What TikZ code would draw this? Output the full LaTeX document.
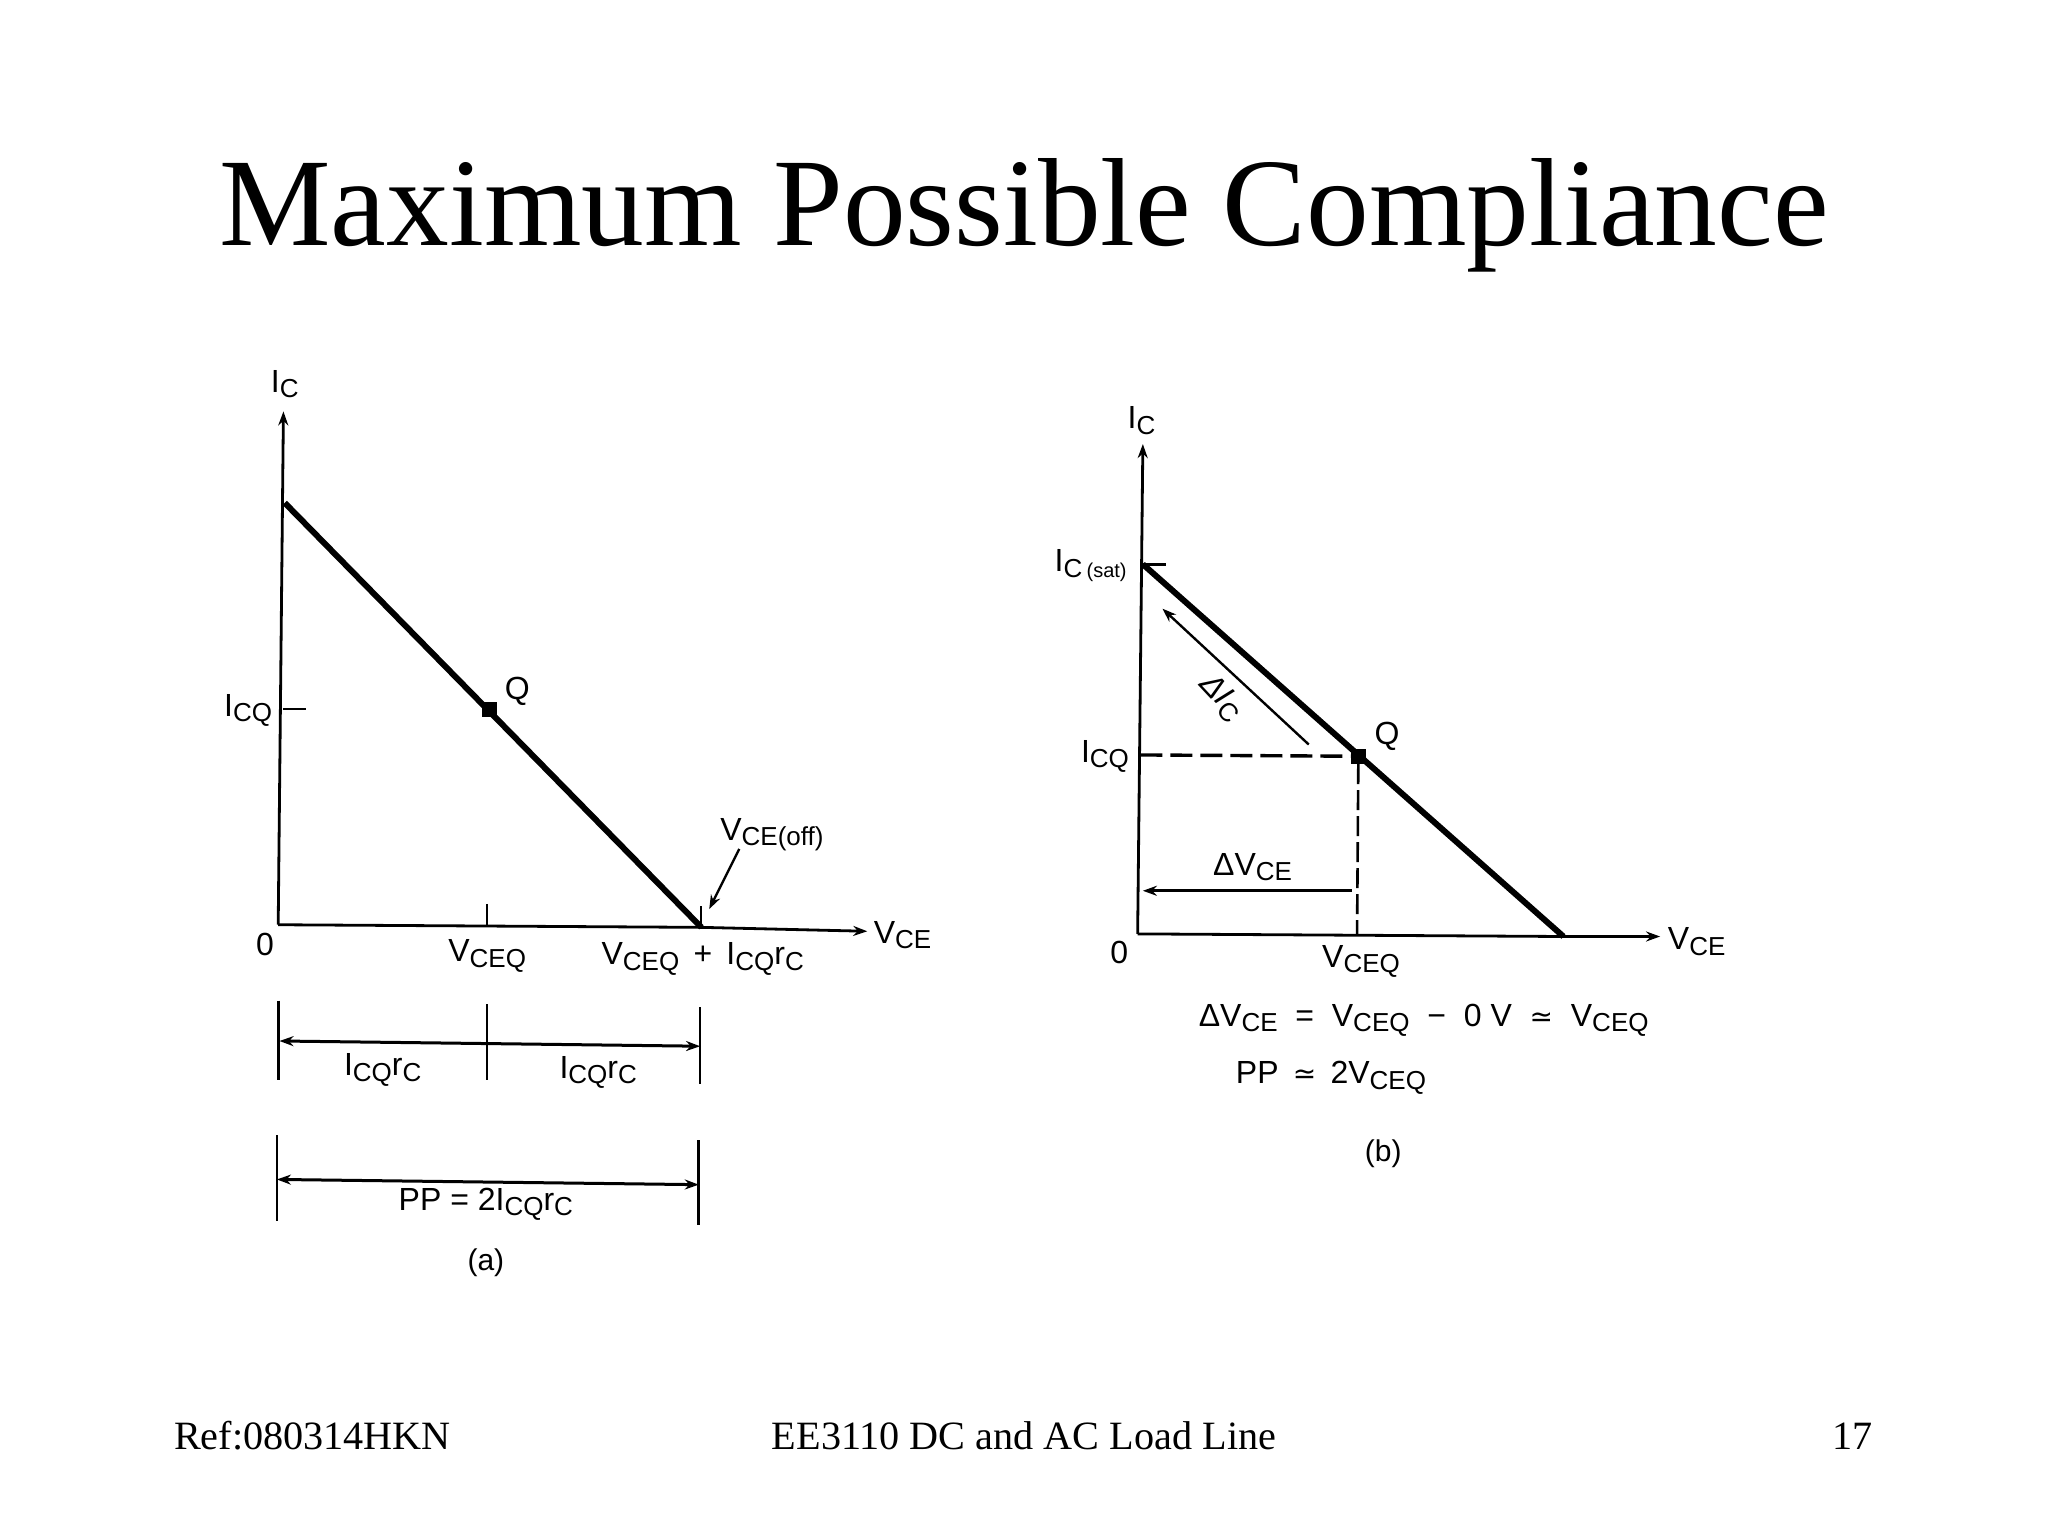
\documentclass[tikz,border=0pt]{standalone}
\usepackage{fontspec}
\setmainfont{Liberation Serif}
\newfontfamily\figfont{Liberation Sans}
\newfontfamily\symfont{DejaVu Sans}
\usetikzlibrary{arrows.meta}
\newcommand{\sbs}[1]{\raisebox{-2.8pt}{\fontsize{13}{13}\selectfont #1}}
\newcommand{\sbsb}[1]{\raisebox{-2.6pt}{\fontsize{10}{10}\selectfont #1}}
\newcommand{\apx}{{\symfont\fontsize{14}{16}\selectfont ≃}}
\tikzset{
  x=0.65306pt,y=-0.65306pt,
  title/.style={inner sep=0,font=\fontsize{62.7}{70}\selectfont},
  foot/.style={inner sep=0,anchor=base,font=\fontsize{20.1}{24}\selectfont},
  lab/.style={inner sep=0,font=\figfont\fontsize{16}{18}\selectfont},
  small/.style={inner sep=0,font=\figfont\fontsize{15}{17}\selectfont},
  axis/.style={line width=1.4pt,-{Stealth[length=7pt,width=5pt]}},
  thin line/.style={line width=1.1pt},
  load/.style={line width=3pt},
  dim/.style={line width=1.3pt},
  dimarrow/.style={line width=1.5pt,{Stealth[length=7pt,width=5pt]}-{Stealth[length=7pt,width=5pt]}},
  onearrow/.style={line width=1.2pt,-{Stealth[length=7pt,width=5pt]}},
  boldarrow/.style={line width=1.7pt,-{Stealth[length=7pt,width=5pt]}},
  dash line/.style={line width=1.7pt,dash pattern=on 11pt off 4pt},
  dash thin/.style={line width=1.3pt,dash pattern=on 10pt off 3pt},
  qdot/.style={rectangle,fill=black,inner sep=0,minimum size=7.5pt},
}
\begin{document}
\begin{tikzpicture}
\useasboundingbox (0,0) rectangle (1568,1176);
\fill[white] (0,0) rectangle (1568,1176);

\node[title] (t) at (784,165) {Maximum Possible Compliance};
\node[foot,anchor=base west] (f1) at (133,1110) {Ref:080314HKN};
\node[foot] (f2) at (784,1110) {EE3110 DC and AC Load Line};
\node[foot,anchor=base east] (f3) at (1434,1110) {17};

% --- (a) ---
\coordinate (aO) at (213,708);
\coordinate (aTop) at (217,315);
\coordinate (aEnd) at (664,713);
\coordinate (aS) at (218,385);
\coordinate (aX) at (537,710);
\draw[axis] (aO) -- (aTop);
\draw[axis] (aO) -- (aX) -- (aEnd);
\draw[load] (aS) -- (aX);
\node[qdot] (aQ) at (375,543) {};
\node[lab] (aQl) at (396,529) {Q};
\node[lab] (aIc) at (218,294) {I\sbs{C}};
\node[lab] (aIcq) at (190,544) {I\sbs{CQ}};
\coordinate (aT1) at (217,543);
\coordinate (aT2) at (234,543);
\draw[thin line] (aT1) -- (aT2);
\coordinate (aV1) at (373,692);
\coordinate (aV2) at (373,708);
\draw[dim] (aV1) -- (aV2);
\coordinate (aW1) at (537,694);
\draw[thin line] (aW1) -- (aX);
\node[lab] (a0) at (203,723) {0};
\node[lab] (aVq) at (373,732) {V\sbs{CEQ}};
\node[lab] (aVs) at (538,734) {V\sbs{CEQ}\ \,+\ \,I\sbs{CQ}r\sbs{C}};
\node[lab] (aVce) at (691,716) {V\sbs{CE}};
\node[lab] (aOff) at (591,639) {V\sbs{CE(off)}};
\coordinate (aA) at (566,650);
\coordinate (aB) at (543,696);
\draw[onearrow] (aA) -- (aB);

% dimension rows
\coordinate (d1a) at (213,766); \coordinate (d1b) at (213,827);
\coordinate (d2a) at (373,769); \coordinate (d2b) at (373,827);
\coordinate (d3a) at (536,771); \coordinate (d3b) at (536,830);
\draw[dim] (d1a) -- (d1b);
\draw[dim] (d2a) -- (d2b);
\draw[dim] (d3a) -- (d3b);
\coordinate (d1m) at (214,797);
\coordinate (d3m) at (536,801);
\draw[dimarrow] (d1m) -- (d3m);
\node[lab] (dl1) at (293,819) {I\sbs{CQ}r\sbs{C}};
\node[lab] (dl2) at (458,821) {I\sbs{CQ}r\sbs{C}};
\coordinate (e1a) at (212,869); \coordinate (e1b) at (212,935);
\coordinate (e2a) at (535,873); \coordinate (e2b) at (535,938);
\draw[dim] (e1a) -- (e1b);
\draw[dim] (e2a) -- (e2b);
\coordinate (e1m) at (212,903);
\coordinate (e2m) at (535,907);
\draw[dimarrow] (e1m) -- (e2m);
\node[lab] (pp1) at (372,922) {PP\ =\ 2I\sbs{CQ}r\sbs{C}};
\node[small] (acap) at (372,967) {(a)};

% --- (b) ---
\coordinate (bO) at (871,715);
\coordinate (bTop) at (875,340);
\coordinate (bEnd) at (1271,717);
\coordinate (bS) at (875,432);
\coordinate (bX) at (1197,717);
\draw[axis] (bO) -- (bTop);
\draw[axis] (bO) -- (bX) -- (bEnd);
\draw[load] (bS) -- (bX);
\coordinate (bT) at (893,432);
\draw[dim] (bS) -- (bT);
\node[qdot] (bQ) at (1040,579) {};
\node[lab] (bQl) at (1062,564) {Q};
\node[lab] (bIc) at (874,322) {I\sbs{C}};
\node[lab] (bSat) at (835,433) {I\sbs{C\,}\sbsb{(sat)}};
\node[lab] (bIcq) at (846,579) {I\sbs{CQ}};
\coordinate (bL) at (873,578);
\coordinate (bD) at (1039,715);
\draw[dash line] (bL) -- (bQ);
\draw[dash thin] (bQ) -- (bD);
\coordinate (bA) at (1002,570);
\coordinate (bB) at (890,466);
\draw[onearrow] (bA) -- (bB);
\node[lab,rotate=-47] (bDi) at (935,534) {\textit{ΔI}\sbs{C}};
\coordinate (bC) at (1035,682);
\coordinate (bE) at (875,682);
\draw[boldarrow] (bC) -- (bE);
\node[lab] (bDv) at (959,664) {ΔV\sbs{CE}};
\node[lab] (b0) at (857,729) {0};
\node[lab] (bVq) at (1042,736) {V\sbs{CEQ}};
\node[lab] (bVce) at (1299,721) {V\sbs{CE}};
\node[lab] (eq1) at (1090,781) {ΔV\sbs{CE}\ \ =\ \ V\sbs{CEQ}\ \ −\ \ 0 V\ \ \apx\ \ V\sbs{CEQ}};
\node[lab] (eq2) at (1019,825) {PP\ \,\apx\ \,2V\sbs{CEQ}};
\node[small] (bcap) at (1059,883) {(b)};
\end{tikzpicture}
\end{document}
